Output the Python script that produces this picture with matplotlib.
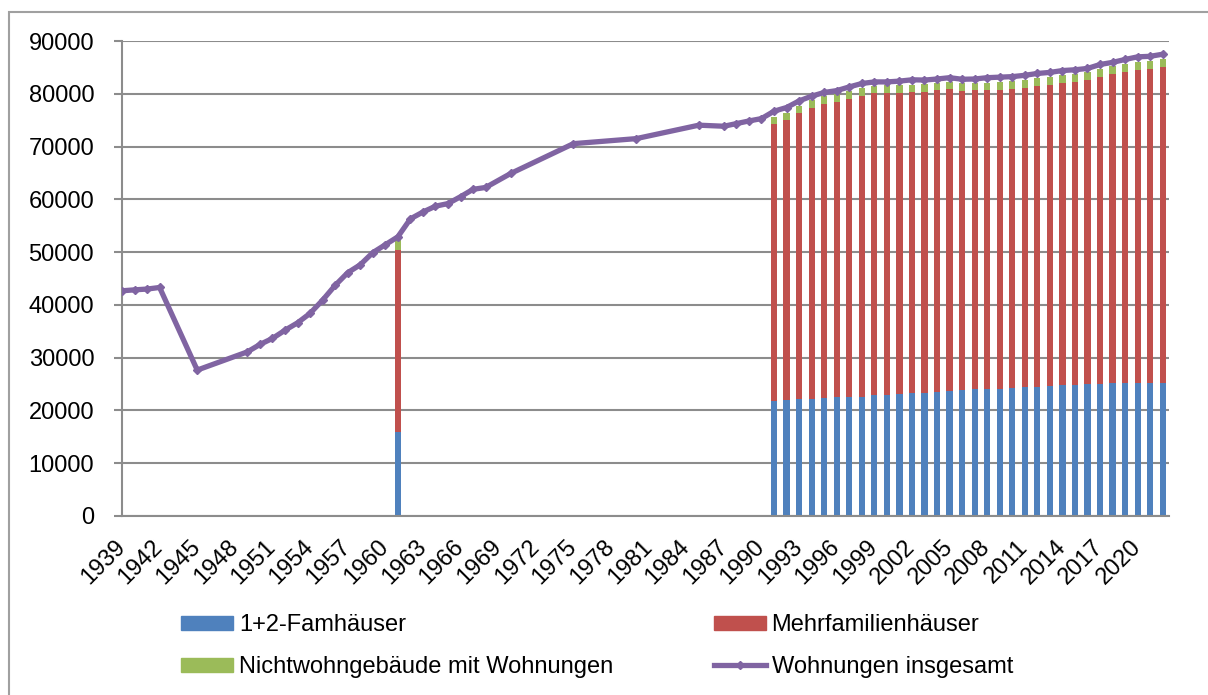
import numpy as np
import matplotlib.pyplot as plt
from matplotlib.patches import Rectangle
from matplotlib.lines import Line2D
from matplotlib.patches import Patch

plt.rcParams['font.family'] = ['Liberation Sans', 'DejaVu Sans']

# total dwellings (line), only years with data points
line_years = [1939, 1940, 1941, 1942, 1945, 1949, 1950, 1951, 1952, 1953, 1954, 1955,
              1956, 1957, 1958, 1959, 1960, 1961, 1962, 1963, 1964, 1965, 1966, 1967,
              1968, 1970, 1975, 1980, 1985, 1987, 1988, 1989, 1990, 1991, 1992, 1993,
              1994, 1995, 1996, 1997, 1998, 1999, 2000, 2001, 2002, 2003, 2004, 2005,
              2006, 2007, 2008, 2009, 2010, 2011, 2012, 2013, 2014, 2015, 2016, 2017,
              2018, 2019, 2020, 2021, 2022]
insgesamt = [42670, 42850, 43000, 43300, 27650, 31100, 32500, 33650, 35200, 36600, 38400, 40900,
             43700, 46100, 47600, 49900, 51400, 52900, 56300, 57600, 58700, 59200, 60500, 61900,
             62250, 64900, 70550, 71500, 74050, 73850, 74350, 74850, 75300, 76700, 77400, 78650,
             79550, 80250, 80600, 81300, 81950, 82250, 82250, 82400, 82650, 82600, 82800, 83050,
             82750, 82800, 83050, 83150, 83250, 83500, 83850, 84050, 84400, 84550, 84800, 85550,
             85950, 86500, 87000, 87100, 87500]

# stacked bars by building type
bar_years = [1961] + list(range(1991, 2023))
famh = [15900, 21780, 21910, 22100, 22160, 22410, 22480, 22480, 22600, 22850, 22920, 23040,
        23230, 23360, 23550, 23670, 23930, 23990, 24050, 24120, 24240, 24370, 24490, 24620,
        24750, 24810, 24940, 25060, 25130, 25130, 25130, 25130, 25130]
mfh = [34480, 52460, 53090, 54170, 55170, 55680, 55990, 56560, 57010, 57260, 57260, 57140,
       57070, 57010, 57130, 57200, 56630, 56690, 56630, 56630, 56700, 56750, 57010, 57130,
       57320, 57450, 57700, 58150, 58650, 59090, 59400, 59590, 59970]
nwg = [1900, 1400, 1400, 1400, 1400, 1450, 1450, 1450, 1450, 1450, 1450, 1450,
       1450, 1450, 1450, 1450, 1450, 1450, 1450, 1450, 1450, 1450, 1450, 1450,
       1450, 1450, 1450, 1450, 1450, 1450, 1450, 1450, 1450]

tick_years = list(range(1939, 2021, 3))

c_blue = '#4F81BD'
c_red = '#C0504D'
c_green = '#9BBB59'
c_purple = '#8064A2'
c_grid = '#8C8C8C'

fig = plt.figure(figsize=(12.08, 6.95), dpi=100)
ax = fig.add_axes([122/1208, 1-516/695, (1169-122)/1208, (516-41)/695])

bx = np.array(bar_years)
famh = np.array(famh)
mfh = np.array(mfh)
nwg = np.array(nwg)
ax.bar(bx, famh, width=0.5, color=c_blue, zorder=2)
ax.bar(bx, mfh, width=0.5, bottom=famh, color=c_red, zorder=2)
ax.bar(bx, nwg, width=0.5, bottom=famh+mfh, color=c_green, zorder=2)
ax.plot(line_years, insgesamt, color=c_purple, lw=3.8, marker='D', ms=4,
        zorder=3, solid_joinstyle='round')

ax.set_xlim(1939, 2022.5)
ax.set_ylim(0, 90000)
ax.set_yticks(range(0, 90001, 10000))
ax.yaxis.grid(True, color=c_grid, lw=1.5, zorder=0)
ax.set_axisbelow(True)
for s in ['top', 'right']:
    ax.spines[s].set_visible(False)
ax.spines['left'].set_color(c_grid)
ax.spines['left'].set_linewidth(1.5)
ax.spines['bottom'].set_color(c_grid)
ax.spines['bottom'].set_linewidth(1.5)
ax.tick_params(axis='y', length=6, width=1.5, color=c_grid, labelsize=17, pad=14)
ax.set_xticks(tick_years)
ax.set_xticklabels([str(y) for y in tick_years], rotation=45, ha='right',
                   va='center', rotation_mode='anchor')
ax.tick_params(axis='x', length=0, labelsize=17, pad=20)

# legend is filled column-wise: col 1 = blue, green; col 2 = red, line
handles = [Patch(color=c_blue), Patch(color=c_green), Patch(color=c_red),
           Line2D([], [], color=c_purple, lw=3.8, marker='D', ms=4)]
labels = ['1+2-Famhäuser', 'Nichtwohngebäude mit Wohnungen', 'Mehrfamilienhäuser',
          'Wohnungen insgesamt']
fig.legend(handles, labels, ncol=2, loc='center left', bbox_to_anchor=(160/1208, 1-646/695),
           frameon=False, fontsize=17, handlelength=2.2, handleheight=0.55,
           handletextpad=0.25, columnspacing=4.25, labelspacing=0.85)

fig.patches.append(Rectangle((9/1208, -0.1), 1.2, 0.1 + (695-12)/695,
                             transform=fig.transFigure, fill=False,
                             edgecolor='#A0A0A0', lw=1.5))

fig.savefig('out.png', dpi=100)
